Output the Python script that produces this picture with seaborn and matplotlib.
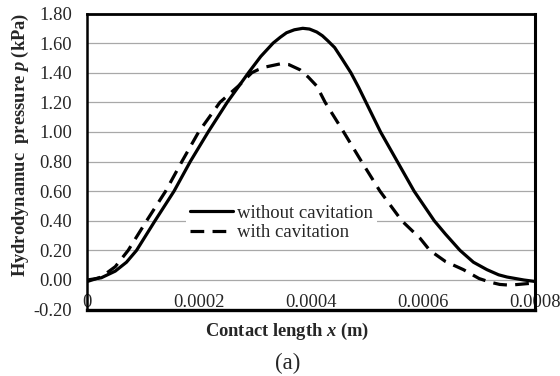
import numpy as np
import pandas as pd
import matplotlib
matplotlib.use("Agg")
import matplotlib.pyplot as plt
import seaborn as sns

# ---- data ----
x_without_e4 = [0.00, 0.25, 0.50, 0.70, 0.88, 1.21, 1.55, 1.84, 2.16, 2.50, 2.88, 3.10, 3.32, 3.45,
                3.56, 3.70, 3.85, 3.97, 4.10, 4.20, 4.30, 4.42, 4.55, 4.71, 4.85, 4.98, 5.24, 5.54,
                5.84, 6.20, 6.40, 6.66, 6.90, 7.14, 7.35, 7.50, 7.80, 8.00]
p_without = [0.00, 0.015, 0.06, 0.12, 0.20, 0.40, 0.60, 0.80, 1.00, 1.20, 1.40, 1.51, 1.60, 1.64,
             1.67, 1.69, 1.70, 1.695, 1.675, 1.65, 1.615, 1.57, 1.495, 1.40, 1.30, 1.20, 1.00, 0.80,
             0.60, 0.40, 0.31, 0.20, 0.12, 0.07, 0.035, 0.02, 0.00, -0.01]

x_with_e4 = [0.00, 0.25, 0.50, 0.73, 1.06, 1.40, 1.69, 1.99, 2.37, 2.70, 2.94, 3.05, 3.20, 3.45,
             3.60, 3.80, 3.95, 4.10, 4.25, 4.58, 4.90, 5.23, 5.62, 5.95, 6.12, 6.40, 6.72,
             7.00, 7.20, 7.37, 7.55, 7.70, 7.85, 8.00]
p_with = [-0.01, 0.02, 0.09, 0.20, 0.40, 0.60, 0.80, 1.00, 1.20, 1.31, 1.40, 1.42, 1.44, 1.46,
          1.455, 1.42, 1.37, 1.31, 1.20, 1.00, 0.80, 0.60, 0.40, 0.28, 0.20, 0.125, 0.07,
          0.01, -0.015, -0.03, -0.035, -0.03, -0.025, -0.02]

series_names = ["without cavitation", "with cavitation"]
x_ticks = [0, 0.0002, 0.0004, 0.0006, 0.0008]
x_tick_labels = ["0", "0.0002", "0.0004", "0.0006", "0.0008"]
y_ticks = [-0.2, 0.0, 0.2, 0.4, 0.6, 0.8, 1.0, 1.2, 1.4, 1.6, 1.8]
y_tick_labels = ["%.2f" % v for v in y_ticks]

df_without = pd.DataFrame({"x": np.array(x_without_e4) * 1e-4, "p": p_without})
df_with = pd.DataFrame({"x": np.array(x_with_e4) * 1e-4, "p": p_with})

# ---- style ----
sns.set_style("white")
plt.rcParams["font.family"] = ["Liberation Serif", "DejaVu Serif"]
plt.rcParams["mathtext.fontset"] = "custom"
plt.rcParams["mathtext.it"] = "Liberation Serif:italic:bold"
plt.rcParams["mathtext.rm"] = "Liberation Serif:bold"
plt.rcParams["mathtext.bf"] = "Liberation Serif:bold"
plt.rcParams["axes.unicode_minus"] = False

fig = plt.figure(figsize=(5.6, 3.76), dpi=100)
ax = fig.add_axes([87.3 / 560, 1 - 309.6 / 376, (535 - 87.3) / 560, (309.6 - 13.5) / 376])

sns.lineplot(data=df_without, x="x", y="p", ax=ax, color="black", lw=2.3,
             estimator=None, sort=False, label=series_names[0])
sns.lineplot(data=df_with, x="x", y="p", ax=ax, color="black", lw=2.3,
             linestyle=(0, (4.3, 2.6)), estimator=None, sort=False, label=series_names[1])

ax.set_xlim(0, 0.0008)
ax.set_ylim(-0.2, 1.8)
ax.set_yticks(y_ticks, y_tick_labels)
ax.set_xticks(x_ticks, x_tick_labels)
ax.yaxis.grid(True, color="#a8a8a8", lw=0.9)
ax.xaxis.grid(False)
ax.set_axisbelow(True)

ax.tick_params(axis="y", length=0, pad=11, labelsize=13.3)
ax.tick_params(axis="x", length=0, pad=-2, labelsize=13.3)
for t in ax.xaxis.get_major_ticks():
    t.label1.set_va("baseline")

for side, lw in [("left", 1.8), ("bottom", 2.4), ("top", 2.0), ("right", 2.2)]:
    ax.spines[side].set_visible(True)
    ax.spines[side].set_color("black")
    ax.spines[side].set_linewidth(lw)

ax.set_xlabel(r"Contact length $x$ (m)", fontsize=13.3, fontweight="bold", va="center")
ax.xaxis.set_label_coords(0.446, -0.073)
ax.set_ylabel(r"Hydrodynamuc  pressure $p$ (kPa)", fontsize=13.3, fontweight="bold", va="center")
ax.yaxis.set_label_coords(-0.150, 0.556)

handles, labels = ax.get_legend_handles_labels()
leg = ax.legend(handles, labels, loc="center left", bbox_to_anchor=(0.221, 0.292),
                frameon=True, fontsize=13.5, handlelength=2.3, handletextpad=0.2,
                labelspacing=0.12, borderpad=0.2, borderaxespad=0.0, fancybox=False)
leg.get_frame().set_facecolor("white")
leg.get_frame().set_edgecolor("none")
leg.get_frame().set_alpha(1.0)

fig.text(288 / 560, 1 - 363 / 376, "(a)", ha="center", va="center", fontsize=16.5)

fig.savefig("out.png", dpi=100)
